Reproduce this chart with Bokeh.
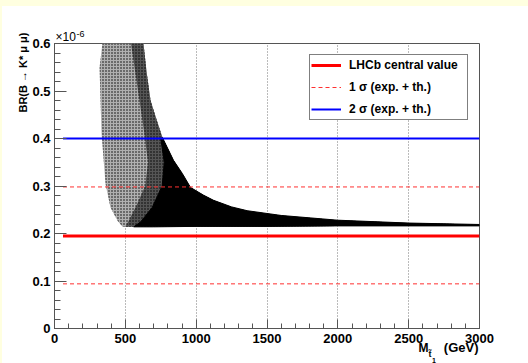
from bokeh.plotting import figure
from bokeh.models import Range1d, FixedTicker, Legend, LegendItem, Spacer, Title
from bokeh.layouts import column, row
from bokeh.embed import file_html
from bokeh.resources import INLINE

# ---------------- data ----------------
mass_ticks = [0, 500, 1000, 1500, 2000, 2500, 3000]
mass_minor = [0, 100, 200, 300, 400, 500, 600, 700, 800, 900, 1000, 1100, 1200, 1300, 1400,
              1500, 1600, 1700, 1800, 1900, 2000, 2100, 2200, 2300, 2400, 2500, 2600, 2700,
              2800, 2900, 3000]
grid_ticks = [500, 1000, 1500, 2000, 2500]
br_ticks = [0, 0.1, 0.2, 0.3, 0.4, 0.5, 0.6]
br_minor = [0, 0.02, 0.04, 0.06, 0.08, 0.1, 0.12, 0.14, 0.16, 0.18, 0.2, 0.22, 0.24, 0.26,
            0.28, 0.3, 0.32, 0.34, 0.36, 0.38, 0.4, 0.42, 0.44, 0.46, 0.48, 0.5, 0.52, 0.54,
            0.56, 0.58, 0.6]
br_labels = {0: "0", 0.1: "0.1", 0.2: "0.2", 0.3: "0.3", 0.4: "0.4", 0.5: "0.5", 0.6: "0.6"}

# scan cloud envelope (BR in units of 1e-6)
upper_m = [628, 650, 678, 720, 762, 840, 903, 960, 1050, 1122, 1250, 1360, 1600, 2000, 2500, 3000]
upper_br = [0.600, 0.540, 0.480, 0.440, 0.402, 0.354, 0.326, 0.297, 0.281, 0.270, 0.256, 0.248,
            0.238, 0.228, 0.222, 0.219]
lower_m = [480, 700, 1000, 1500, 2000, 2500, 3000]
lower_br = [0.214, 0.214, 0.215, 0.215, 0.216, 0.216, 0.216]
left_m = [338, 318, 332, 360, 395, 445, 480]
left_br = [0.600, 0.549, 0.411, 0.305, 0.255, 0.227, 0.214]
mid_m = [540, 590, 630, 660, 640, 580, 520, 500]
mid_br = [0.600, 0.500, 0.420, 0.350, 0.300, 0.260, 0.225, 0.214]
dense_m = [750, 775, 760, 690, 610, 560]
dense_br = [0.400, 0.350, 0.300, 0.255, 0.225, 0.214]

# reference lines
line_m = [60, 3000]
lhcb_central = 0.195
sigma1_lo = 0.094
sigma1_hi = 0.298
sigma2_hi = 0.400

legend_labels = ["LHCb central value", "1 σ (exp. + th.)", "2 σ (exp. + th.)"]
y_title = "BR(B → K* μ μ)"
x_title_unit = "(GeV)"
x_title_sym = ["M", "t\u0303", "1"]
exponent = ["×10", "-6"]


def region(bx, by):
    """polygon: boundary (top->bottom), lower edge to the right, upper edge back."""
    xs = list(bx)
    ys = list(by)
    for m, b in zip(lower_m, lower_br):
        if m > bx[-1]:
            xs.append(m)
            ys.append(b)
    for m, b in zip(reversed(upper_m), reversed(upper_br)):
        if b <= by[0] + 0.003:
            xs.append(m)
            ys.append(b)
    return xs, ys


p = figure(width=526, height=357, x_range=Range1d(0, 3000), y_range=Range1d(0, 0.6),
           output_backend="svg", toolbar_location=None, title=None,
           min_border_left=52, min_border_right=49, min_border_top=37, min_border_bottom=35)
p.background_fill_color = "white"
p.border_fill_color = "white"
p.outline_line_color = "#555555"
p.outline_line_width = 1

for ax in (p.xaxis[0], p.yaxis[0]):
    ax.axis_line_color = "#555555"
    ax.major_tick_line_color = "#555555"
    ax.minor_tick_line_color = "#555555"
    ax.major_tick_out = 0
    ax.minor_tick_out = 0
    ax.major_label_text_font = "Liberation Sans"
    ax.major_label_text_font_style = "bold"
    ax.major_label_text_font_size = "13px"
    ax.major_label_text_color = "black"
    ax.axis_label = None

p.xaxis.ticker = FixedTicker(ticks=mass_ticks, minor_ticks=mass_minor)
p.yaxis.ticker = FixedTicker(ticks=br_ticks, minor_ticks=br_minor)
p.yaxis.major_label_overrides = br_labels
p.xaxis.major_tick_in = 9
p.xaxis.minor_tick_in = 5
p.yaxis.major_tick_in = 12
p.yaxis.minor_tick_in = 6
p.xaxis.major_label_standoff = 5
p.yaxis.major_label_standoff = 4

p.xgrid.ticker = FixedTicker(ticks=grid_ticks)
p.xgrid.grid_line_color = "#777777"
p.xgrid.grid_line_dash = "1 2"
p.xgrid.grid_line_width = 1
p.ygrid.visible = False

# scan cloud
ax_, ay_ = region(left_m, left_br)
p.patch(ax_, ay_, fill_color="#b0b0b0", line_color=None,
        hatch_pattern="dot", hatch_color="black", hatch_scale=3, hatch_weight=1.0)
bx_, by_ = region(mid_m, mid_br)
p.patch(bx_, by_, fill_color="#555555", line_color=None,
        hatch_pattern="dot", hatch_color="black", hatch_scale=3, hatch_weight=1.2)
cx_, cy_ = region(dense_m, dense_br)
p.patch(cx_, cy_, fill_color="black", line_color="black", line_width=1)

# reference lines
r_c = p.line(line_m, [lhcb_central, lhcb_central], line_color="#ff0000", line_width=3)
p.line(line_m, [sigma1_lo, sigma1_lo], line_color="#ff3030", line_width=1, line_dash="4 3")
r_1 = p.line(line_m, [sigma1_hi, sigma1_hi], line_color="#ff3030", line_width=1, line_dash="4 3")
r_2 = p.line(line_m, [sigma2_hi, sigma2_hi], line_color="#0000ff", line_width=2)

legend = Legend(items=[LegendItem(label=legend_labels[0], renderers=[r_c]),
                       LegendItem(label=legend_labels[1], renderers=[r_1]),
                       LegendItem(label=legend_labels[2], renderers=[r_2])],
                location=(255, 208), margin=0, padding=1, spacing=4,
                glyph_width=30, glyph_height=18, label_height=18, label_width=117,
                label_standoff=8, border_line_color="black", border_line_width=1,
                background_fill_color="white", background_fill_alpha=1.0,
                label_text_font="Liberation Sans", label_text_font_style="bold",
                label_text_font_size="12px", label_text_color="black")
p.add_layout(legend)


def side_text(side, text, size, style, align, offset, standoff, valign):
    p.add_layout(Title(text=text, align=align, offset=offset, standoff=standoff,
                       vertical_align=valign, text_font="Liberation Sans",
                       text_font_style=style, text_font_size=size,
                       text_color="black"), side)


# y axis title
side_text("left", y_title, "11px", "bold", "right", -11, 2, "bottom")
# x axis title (stacked below the axis; zero-height panels keep them on one line)
side_text("below", x_title_unit, "13px", "bold", "right", 1, -16.5, "bottom")
side_text("below", x_title_sym[0], "12px", "bold", "left", 364, -15.4, "bottom")
side_text("below", x_title_sym[1], "9px", "bold", "left", 374, -1.3, "bottom")
side_text("below", x_title_sym[2], "7px", "bold", "left", 377.5, -9.8, "bottom")
# exponent above the frame
side_text("above", exponent[0], "12px", "normal", "left", 1, -4.8, "top")
side_text("above", exponent[1], "9px", "normal", "left", 22, -9.2, "bottom")

top_strip = Spacer(width=528, height=6, styles={"background-color": "#ffffe0"})
left_strip = Spacer(width=2, height=357, styles={"background-color": "#ffffe0"})
layout = column(top_strip, row(left_strip, p))

open("out.html", "w").write(file_html(layout, INLINE))
